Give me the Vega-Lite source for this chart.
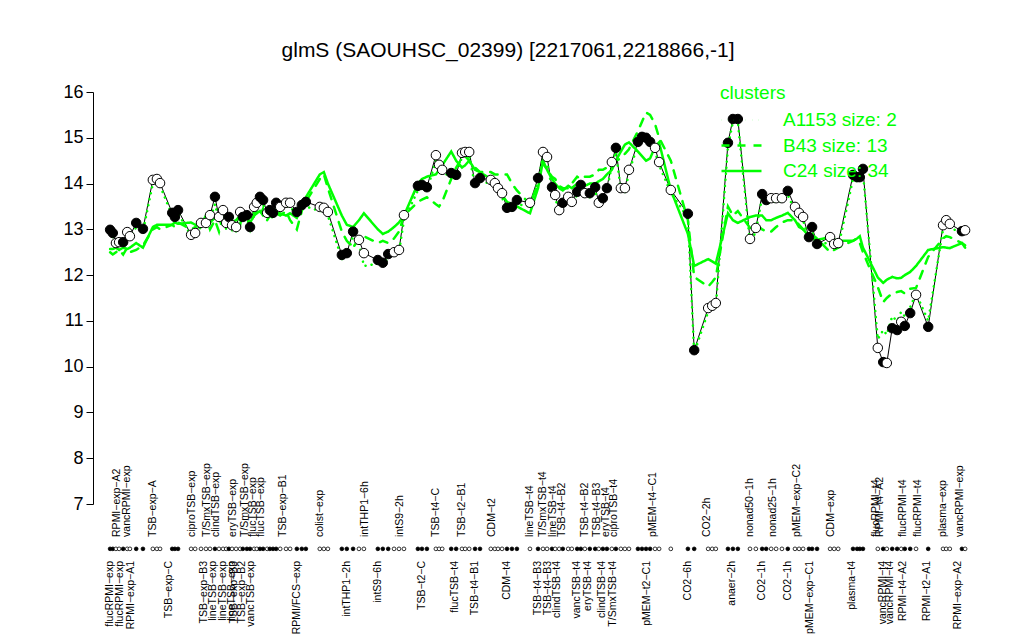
{
"$schema": "https://vega.github.io/schema/vega-lite/v6.json",
"width": 900,
"height": 412,
"autosize": {"type": "none"},
"padding": {"left": 93, "top": 92, "right": 31, "bottom": 136},
"title": {"text": "glmS (SAOUHSC_02399) [2217061,2218866,-1]", "font": "Liberation Sans", "fontSize": 21, "fontWeight": "normal", "color": "black", "anchor": "middle", "frame": "group", "dx": -35, "offset": 22},
"config": {
  "view": {"stroke": null},
  "font": "Liberation Sans",
  "axisY": {"values": [7,8,9,10,11,12,13,14,15,16], "grid": false, "domainColor": "black", "tickColor": "black", "tickSize": 7, "labelFontSize": 18, "labelFont": "Liberation Sans", "labelColor": "black", "labelPadding": 3, "domainWidth": 1, "tickWidth": 1, "title": null}
},
"datasets": {
"pts": [
{"p":3.8,"v":12.99,"f":1,"a":12.95,"b":12.5,"c":12.57},
{"p":4.4,"v":12.92,"f":1,"a":12.85,"b":12.45,"c":12.57},
{"p":5.1,"v":12.70,"f":0,"a":12.6,"b":12.5,"c":12.6},
{"p":5.8,"v":12.72,"f":0,"a":12.65,"b":12.55,"c":12.55},
{"p":6.7,"v":12.72,"f":1,"a":12.7,"b":12.45,"c":12.6},
{"p":7.6,"v":12.94,"f":0,"a":12.85,"b":12.6,"c":12.57},
{"p":8.2,"v":12.85,"f":0,"a":12.8,"b":12.5,"c":12.6},
{"p":9.6,"v":13.14,"f":1,"a":13.05,"b":12.55,"c":12.7},
{"p":11.1,"v":13.01,"f":1,"a":12.95,"b":12.65,"c":12.6},
{"p":13.3,"v":14.08,"f":0,"a":14.0,"b":13.0,"c":13.05},
{"p":14.2,"v":14.10,"f":0,"a":14.0,"b":13.05,"c":13.1},
{"p":14.9,"v":14.01,"f":0,"a":13.95,"b":13.0,"c":13.1},
{"p":17.6,"v":13.36,"f":1,"a":13.3,"b":13.1,"c":13.1},
{"p":18.2,"v":13.27,"f":1,"a":13.25,"b":13.05,"c":13.15},
{"p":18.9,"v":13.42,"f":1,"a":13.35,"b":13.15,"c":13.12},
{"p":21.8,"v":12.88,"f":0,"a":12.85,"b":13.0,"c":13.15},
{"p":22.7,"v":12.92,"f":0,"a":12.9,"b":13.05,"c":13.1},
{"p":24.0,"v":13.14,"f":0,"a":13.05,"b":13.1,"c":13.1},
{"p":25.1,"v":13.14,"f":0,"a":13.05,"b":13.3,"c":13.2},
{"p":26.0,"v":13.31,"f":0,"a":13.2,"b":13.0,"c":13.15},
{"p":27.1,"v":13.71,"f":1,"a":13.55,"b":13.2,"c":13.25},
{"p":28.0,"v":13.27,"f":0,"a":13.2,"b":12.95,"c":13.2},
{"p":28.9,"v":13.42,"f":0,"a":13.3,"b":13.3,"c":13.1},
{"p":29.6,"v":13.14,"f":0,"a":13.0,"b":13.05,"c":13.2},
{"p":30.2,"v":13.27,"f":1,"a":13.2,"b":13.15,"c":13.25},
{"p":30.9,"v":13.09,"f":0,"a":13.05,"b":13.0,"c":13.15},
{"p":31.8,"v":13.05,"f":0,"a":12.95,"b":13.2,"c":13.2},
{"p":32.7,"v":13.38,"f":0,"a":13.3,"b":13.1,"c":13.3},
{"p":33.3,"v":13.27,"f":1,"a":13.2,"b":13.4,"c":13.2},
{"p":34.2,"v":13.31,"f":1,"a":13.25,"b":13.2,"c":13.25},
{"p":34.9,"v":13.05,"f":1,"a":13.0,"b":13.0,"c":13.15},
{"p":35.8,"v":13.49,"f":0,"a":13.4,"b":13.3,"c":13.3},
{"p":36.4,"v":13.58,"f":0,"a":13.5,"b":13.4,"c":13.35},
{"p":37.1,"v":13.71,"f":1,"a":13.6,"b":13.3,"c":13.4},
{"p":37.8,"v":13.64,"f":1,"a":13.55,"b":13.45,"c":13.3},
{"p":38.7,"v":13.36,"f":0,"a":13.3,"b":13.2,"c":13.3},
{"p":39.3,"v":13.42,"f":1,"a":13.35,"b":13.3,"c":13.35},
{"p":40.0,"v":13.36,"f":1,"a":13.3,"b":13.25,"c":13.3},
{"p":40.7,"v":13.58,"f":1,"a":13.5,"b":13.35,"c":13.4},
{"p":41.6,"v":13.49,"f":0,"a":13.4,"b":13.3,"c":13.35},
{"p":42.9,"v":13.58,"f":0,"a":13.5,"b":13.4,"c":13.3},
{"p":43.8,"v":13.58,"f":0,"a":13.5,"b":13.2,"c":13.35},
{"p":45.3,"v":13.38,"f":1,"a":13.3,"b":13.0,"c":13.25},
{"p":46.4,"v":13.53,"f":1,"a":13.45,"b":13.4,"c":13.5},
{"p":47.3,"v":13.60,"f":1,"a":13.5,"b":13.6,"c":13.7},
{"p":50.4,"v":13.49,"f":0,"a":13.4,"b":14.1,"c":14.2},
{"p":51.3,"v":13.47,"f":0,"a":13.4,"b":14.2,"c":14.25},
{"p":52.2,"v":13.38,"f":0,"a":13.3,"b":13.9,"c":14.0},
{"p":55.3,"v":12.44,"f":1,"a":12.35,"b":12.95,"c":13.3},
{"p":56.4,"v":12.48,"f":1,"a":12.4,"b":12.75,"c":13.1},
{"p":57.8,"v":12.95,"f":1,"a":12.85,"b":12.6,"c":13.05},
{"p":59.1,"v":12.77,"f":0,"a":12.7,"b":12.8,"c":13.2},
{"p":60.2,"v":12.48,"f":0,"a":12.2,"b":12.85,"c":13.35},
{"p":63.3,"v":12.33,"f":1,"a":12.25,"b":12.7,"c":13.0},
{"p":64.4,"v":12.27,"f":1,"a":12.2,"b":12.75,"c":12.9},
{"p":65.6,"v":12.46,"f":1,"a":12.4,"b":12.7,"c":12.95},
{"p":66.9,"v":12.50,"f":0,"a":12.45,"b":12.8,"c":13.05},
{"p":68.0,"v":12.55,"f":0,"a":12.5,"b":12.95,"c":13.15},
{"p":69.1,"v":13.31,"f":0,"a":13.2,"b":13.3,"c":13.3},
{"p":72.2,"v":13.95,"f":1,"a":13.85,"b":13.6,"c":14.0},
{"p":73.1,"v":13.97,"f":1,"a":13.9,"b":13.65,"c":14.1},
{"p":74.2,"v":13.92,"f":1,"a":13.85,"b":13.7,"c":14.15},
{"p":76.2,"v":14.62,"f":0,"a":14.5,"b":13.55,"c":14.2},
{"p":76.9,"v":14.41,"f":0,"a":14.35,"b":13.5,"c":14.3},
{"p":77.6,"v":14.30,"f":0,"a":14.25,"b":13.6,"c":14.4},
{"p":79.6,"v":14.23,"f":1,"a":14.15,"b":14.1,"c":14.7},
{"p":80.7,"v":14.19,"f":1,"a":14.1,"b":14.35,"c":14.5},
{"p":82.0,"v":14.67,"f":0,"a":14.6,"b":14.55,"c":14.35},
{"p":82.7,"v":14.69,"f":0,"a":14.6,"b":14.6,"c":14.4},
{"p":83.6,"v":14.69,"f":0,"a":14.6,"b":14.5,"c":14.5},
{"p":84.9,"v":14.01,"f":1,"a":13.95,"b":14.35,"c":14.3},
{"p":86.0,"v":14.12,"f":1,"a":14.05,"b":14.25,"c":14.25},
{"p":88.4,"v":14.08,"f":0,"a":14.0,"b":14.25,"c":14.1},
{"p":89.3,"v":14.01,"f":0,"a":13.95,"b":14.2,"c":13.95},
{"p":90.0,"v":13.90,"f":0,"a":13.85,"b":14.2,"c":13.85},
{"p":90.9,"v":13.79,"f":0,"a":13.7,"b":14.2,"c":13.75},
{"p":92.0,"v":13.47,"f":1,"a":13.4,"b":14.2,"c":13.6},
{"p":93.1,"v":13.49,"f":1,"a":13.4,"b":14.0,"c":13.55},
{"p":94.2,"v":13.64,"f":1,"a":13.55,"b":13.85,"c":13.5},
{"p":97.1,"v":13.58,"f":0,"a":13.5,"b":13.55,"c":13.35},
{"p":98.9,"v":14.12,"f":1,"a":14.05,"b":14.0,"c":13.9},
{"p":100.0,"v":14.69,"f":0,"a":14.6,"b":14.45,"c":14.5},
{"p":100.9,"v":14.58,"f":0,"a":14.5,"b":14.3,"c":14.3},
{"p":102.0,"v":13.92,"f":1,"a":13.85,"b":14.15,"c":14.1},
{"p":102.7,"v":13.75,"f":0,"a":13.7,"b":14.1,"c":14.0},
{"p":103.6,"v":13.42,"f":0,"a":13.35,"b":13.95,"c":13.9},
{"p":104.4,"v":13.58,"f":1,"a":13.5,"b":13.9,"c":13.85},
{"p":105.6,"v":13.71,"f":0,"a":13.65,"b":13.9,"c":13.95},
{"p":106.4,"v":13.60,"f":0,"a":13.55,"b":14.0,"c":13.9},
{"p":107.6,"v":13.82,"f":1,"a":13.75,"b":14.15,"c":14.0},
{"p":108.4,"v":13.97,"f":1,"a":13.9,"b":14.1,"c":14.0},
{"p":109.3,"v":13.79,"f":0,"a":13.7,"b":14.15,"c":13.95},
{"p":110.4,"v":13.79,"f":1,"a":13.7,"b":14.15,"c":14.0},
{"p":111.6,"v":13.92,"f":1,"a":13.85,"b":14.2,"c":14.0},
{"p":112.4,"v":13.58,"f":0,"a":13.5,"b":14.3,"c":14.05},
{"p":113.3,"v":13.68,"f":1,"a":13.6,"b":14.3,"c":14.1},
{"p":114.2,"v":13.90,"f":1,"a":13.85,"b":14.35,"c":14.2},
{"p":115.3,"v":14.47,"f":0,"a":14.4,"b":14.45,"c":14.3},
{"p":116.2,"v":14.78,"f":1,"a":14.7,"b":14.5,"c":14.5},
{"p":117.3,"v":13.90,"f":0,"a":13.85,"b":14.55,"c":14.7},
{"p":118.2,"v":13.90,"f":0,"a":13.8,"b":14.65,"c":14.85},
{"p":119.1,"v":14.30,"f":0,"a":14.25,"b":14.75,"c":14.9},
{"p":121.1,"v":14.91,"f":1,"a":14.85,"b":15.15,"c":14.7},
{"p":122.0,"v":15.02,"f":1,"a":14.95,"b":15.35,"c":14.6},
{"p":122.9,"v":15.00,"f":1,"a":14.95,"b":15.55,"c":14.5},
{"p":123.8,"v":14.91,"f":1,"a":14.85,"b":15.5,"c":14.55},
{"p":124.9,"v":14.78,"f":0,"a":14.7,"b":15.3,"c":14.8},
{"p":125.8,"v":14.47,"f":0,"a":14.4,"b":15.0,"c":14.9},
{"p":128.4,"v":13.86,"f":0,"a":13.8,"b":14.5,"c":13.86},
{"p":132.2,"v":13.34,"f":1,"a":13.25,"b":13.2,"c":12.9},
{"p":133.6,"v":10.36,"f":1,"a":10.3,"b":11.96,"c":12.2},
{"p":136.7,"v":11.28,"f":0,"a":11.2,"b":11.75,"c":12.35},
{"p":137.6,"v":11.33,"f":0,"a":11.25,"b":11.85,"c":12.3},
{"p":138.4,"v":11.39,"f":0,"a":11.3,"b":11.95,"c":12.25},
{"p":141.1,"v":14.89,"f":1,"a":14.8,"b":13.5,"c":13.35},
{"p":142.2,"v":15.41,"f":1,"a":15.35,"b":13.3,"c":13.2},
{"p":143.3,"v":15.41,"f":1,"a":15.35,"b":13.4,"c":13.14},
{"p":146.0,"v":12.79,"f":0,"a":12.7,"b":13.03,"c":13.27},
{"p":147.3,"v":13.03,"f":0,"a":12.95,"b":13.1,"c":13.3},
{"p":148.7,"v":13.77,"f":1,"a":13.7,"b":13.0,"c":13.3},
{"p":149.6,"v":13.64,"f":1,"a":13.55,"b":12.95,"c":13.2},
{"p":150.7,"v":13.68,"f":0,"a":13.6,"b":12.95,"c":13.2},
{"p":151.8,"v":13.68,"f":0,"a":13.6,"b":13.05,"c":13.25},
{"p":153.1,"v":13.68,"f":0,"a":13.6,"b":13.15,"c":13.3},
{"p":154.4,"v":13.84,"f":1,"a":13.75,"b":13.2,"c":13.36},
{"p":156.0,"v":13.49,"f":0,"a":13.4,"b":13.2,"c":13.2},
{"p":156.9,"v":13.36,"f":0,"a":13.3,"b":13.1,"c":13.05},
{"p":157.8,"v":13.27,"f":0,"a":13.2,"b":13.0,"c":13.0},
{"p":159.1,"v":12.83,"f":1,"a":12.75,"b":12.9,"c":12.85},
{"p":159.8,"v":13.05,"f":1,"a":12.95,"b":12.88,"c":12.8},
{"p":160.9,"v":12.68,"f":1,"a":12.6,"b":12.8,"c":12.77},
{"p":163.8,"v":12.83,"f":0,"a":12.75,"b":12.5,"c":12.83},
{"p":164.7,"v":12.68,"f":0,"a":12.6,"b":12.55,"c":12.78},
{"p":165.6,"v":12.70,"f":0,"a":12.6,"b":12.6,"c":12.75},
{"p":168.9,"v":14.19,"f":1,"a":14.1,"b":12.75,"c":12.75},
{"p":169.8,"v":14.14,"f":1,"a":14.05,"b":12.8,"c":12.8},
{"p":170.4,"v":14.14,"f":1,"a":14.05,"b":12.7,"c":12.85},
{"p":171.1,"v":14.32,"f":1,"a":14.25,"b":12.5,"c":12.6},
{"p":174.4,"v":10.41,"f":0,"a":10.6,"b":11.74,"c":11.95},
{"p":175.6,"v":10.10,"f":1,"a":10.8,"b":11.41,"c":11.83},
{"p":176.4,"v":10.08,"f":0,"a":10.7,"b":11.5,"c":11.9},
{"p":177.6,"v":10.84,"f":1,"a":11.1,"b":11.6,"c":11.96},
{"p":178.7,"v":10.80,"f":1,"a":11.0,"b":11.63,"c":11.93},
{"p":179.6,"v":10.98,"f":0,"a":11.2,"b":11.65,"c":11.94},
{"p":180.4,"v":10.89,"f":1,"a":11.1,"b":11.6,"c":12.0},
{"p":181.6,"v":11.17,"f":1,"a":11.3,"b":11.7,"c":12.07},
{"p":182.9,"v":11.57,"f":0,"a":11.6,"b":11.72,"c":12.2},
{"p":185.6,"v":10.87,"f":1,"a":11.0,"b":12.4,"c":12.55},
{"p":188.9,"v":13.09,"f":0,"a":13.0,"b":12.8,"c":12.61},
{"p":189.6,"v":13.20,"f":0,"a":13.1,"b":12.85,"c":12.6},
{"p":190.4,"v":13.12,"f":0,"a":13.05,"b":12.83,"c":12.59},
{"p":193.1,"v":12.96,"f":1,"a":12.9,"b":12.7,"c":12.7},
{"p":193.8,"v":12.98,"f":0,"a":12.9,"b":12.65,"c":12.6}
],
"labs": [
{"p":5.3,"t":"RPMI−exp−A2","r":"t"},
{"p":7.6,"t":"vancRPMI−exp","r":"t"},
{"p":13.3,"t":"TSB−exp−A","r":"t"},
{"p":22.0,"t":"ciproTSB−exp","r":"t"},
{"p":25.3,"t":"T/SmxTSB−exp","r":"t"},
{"p":27.3,"t":"clindTSB−exp","r":"t"},
{"p":31.1,"t":"eryTSB−exp","r":"t"},
{"p":33.8,"t":"T/SmxTSB−exp","r":"t"},
{"p":35.6,"t":"flucTSB−exp","r":"t"},
{"p":37.3,"t":"flucTSB−exp","r":"t"},
{"p":42.2,"t":"TSB−exp−B1","r":"t"},
{"p":50.4,"t":"colist−exp","r":"t"},
{"p":60.4,"t":"intTHP1−6h","r":"t"},
{"p":68.2,"t":"intS9−2h","r":"t"},
{"p":76.2,"t":"TSB−t4−C","r":"t"},
{"p":82.0,"t":"TSB−t2−B1","r":"t"},
{"p":88.7,"t":"CDM−t2","r":"t"},
{"p":97.1,"t":"lineTSB−t4","r":"t"},
{"p":100.0,"t":"T/SmxTSB−t4","r":"t"},
{"p":102.2,"t":"lineTSB−t4","r":"t"},
{"p":104.2,"t":"TSB−t4−B2","r":"t"},
{"p":109.3,"t":"TSB−t4−B2","r":"t"},
{"p":112.0,"t":"TSB−t4−B3","r":"t"},
{"p":114.0,"t":"eryTSB−t4","r":"t"},
{"p":115.8,"t":"ciproTSB−t4","r":"t"},
{"p":124.4,"t":"pMEM−t4−C1","r":"t"},
{"p":136.4,"t":"CO2−2h","r":"t"},
{"p":146.0,"t":"nonad50−1h","r":"t"},
{"p":151.1,"t":"nonad25−1h","r":"t"},
{"p":156.4,"t":"pMEM−exp−C2","r":"t"},
{"p":164.0,"t":"CDM−exp","r":"t"},
{"p":174.0,"t":"flucRPMI−t4","r":"t"},
{"p":174.9,"t":"RPMI−t4−A2","r":"t"},
{"p":180.0,"t":"flucRPMI−t4","r":"t"},
{"p":183.3,"t":"flucRPMI−t4","r":"t"},
{"p":188.9,"t":"plasma−exp","r":"t"},
{"p":192.7,"t":"vancRPMI−exp","r":"t"},
{"p":3.8,"t":"flucRPMI−exp","r":"b"},
{"p":6.0,"t":"flucRPMI−exp","r":"b"},
{"p":8.4,"t":"RPMI−exp−A1","r":"b"},
{"p":16.9,"t":"TSB−exp−C","r":"b"},
{"p":24.7,"t":"TSB−exp−B3","r":"b"},
{"p":26.7,"t":"lineTSB−exp","r":"b"},
{"p":28.9,"t":"lineTSB−exp","r":"b"},
{"p":30.9,"t":"lineTSB−exp","r":"b"},
{"p":31.3,"t":"TSB−exp−B3","r":"b"},
{"p":33.1,"t":"TSB−exp−B2","r":"b"},
{"p":35.1,"t":"vancTSB−exp","r":"b"},
{"p":45.3,"t":"RPMI/FCS−exp","r":"b"},
{"p":56.4,"t":"intTHP1−2h","r":"b"},
{"p":63.3,"t":"intS9−6h","r":"b"},
{"p":73.1,"t":"TSB−t2−C","r":"b"},
{"p":80.4,"t":"flucTSB−t4","r":"b"},
{"p":84.9,"t":"TSB−t4−B1","r":"b"},
{"p":92.0,"t":"CDM−t4","r":"b"},
{"p":98.9,"t":"TSB−t4−B3","r":"b"},
{"p":101.1,"t":"TSB−t4−B3","r":"b"},
{"p":103.1,"t":"clindTSB−t4","r":"b"},
{"p":107.6,"t":"vancTSB−t4","r":"b"},
{"p":110.0,"t":"eryTSB−t4","r":"b"},
{"p":113.1,"t":"clindTSB−t4","r":"b"},
{"p":115.6,"t":"T/SmxTSB−t4","r":"b"},
{"p":123.1,"t":"pMEM−t2−C1","r":"b"},
{"p":132.2,"t":"CO2−6h","r":"b"},
{"p":142.0,"t":"anaer−2h","r":"b"},
{"p":148.7,"t":"CO2−1h","r":"b"},
{"p":154.4,"t":"CO2−1h","r":"b"},
{"p":159.3,"t":"pMEM−exp−C1","r":"b"},
{"p":168.7,"t":"plasma−t4","r":"b"},
{"p":175.6,"t":"vancRPMI−t4","r":"b"},
{"p":177.1,"t":"vancRPMI−t4","r":"b"},
{"p":180.0,"t":"RPMI−t4−A2","r":"b"},
{"p":185.3,"t":"RPMI−t2−A1","r":"b"},
{"p":192.2,"t":"RPMI−exp−A2","r":"b"}
]
},
"layer": [
{
  "data": {"name": "pts"},
  "mark": {"type": "line", "color": "black", "strokeWidth": 1},
  "encoding": {
    "x": {"field": "p", "type": "quantitative", "scale": {"domain": [0, 200], "nice": false, "zero": false}, "axis": null},
    "y": {"field": "v", "type": "quantitative", "scale": {"domain": [7, 16], "nice": false, "zero": false}}
  }
},
{
  "data": {"name": "pts"},
  "transform": [{"fold": ["a", "b", "c"], "as": ["k", "g"]}],
  "mark": {"type": "line", "color": "#00ff00", "strokeWidth": 2.5, "strokeCap": "round"},
  "encoding": {
    "x": {"field": "p", "type": "quantitative", "scale": {"domain": [0, 200], "nice": false, "zero": false}, "axis": null},
    "y": {"field": "g", "type": "quantitative", "scale": {"domain": [7, 16], "nice": false, "zero": false}},
    "strokeDash": {"field": "k", "type": "nominal", "scale": {"domain": ["a", "b", "c"], "range": [[0.1, 6], [8, 8], [1, 0]]},
      "legend": {"orient": "none", "legendX": 627, "legendY": -8, "title": "clusters", "titleColor": "#00ff00", "titleFont": "Liberation Sans", "titleFontSize": 19, "titleFontWeight": "normal", "titlePadding": 7, "labelColor": "#00ff00", "labelFontSize": 19, "labelFont": "Liberation Sans", "symbolType": "stroke", "symbolStrokeColor": "#00ff00", "symbolStrokeWidth": 2.5, "symbolSize": 1600, "clipHeight": 20, "labelOffset": 20, "rowPadding": 5.5, "padding": 0,
        "labelExpr": "datum.label == 'a' ? 'A1153 size: 2' : datum.label == 'b' ? 'B43 size: 13' : 'C24 size: 34'"}}
  }
},
{
  "data": {"name": "pts"},
  "mark": {"type": "point", "shape": "circle", "size": 90, "filled": true, "stroke": "black", "strokeWidth": 1, "opacity": 1},
  "encoding": {
    "x": {"field": "p", "type": "quantitative", "scale": {"domain": [0, 200], "nice": false, "zero": false}, "axis": null},
    "y": {"field": "v", "type": "quantitative", "scale": {"domain": [7, 16], "nice": false, "zero": false}},
    "fill": {"field": "f", "type": "nominal", "scale": {"domain": [0, 1], "range": ["white", "black"]}, "legend": null}
  }
},
{
  "data": {"name": "pts"},
  "mark": {"type": "point", "shape": "circle", "size": 14, "filled": true, "stroke": "black", "strokeWidth": 0.8, "opacity": 1},
  "encoding": {
    "x": {"field": "p", "type": "quantitative", "scale": {"domain": [0, 200], "nice": false, "zero": false}, "axis": null},
    "y": {"datum": 6.02, "type": "quantitative", "scale": {"domain": [7, 16], "nice": false, "zero": false}},
    "fill": {"field": "f", "type": "nominal", "scale": {"domain": [0, 1], "range": ["white", "black"]}, "legend": null}
  }
},
{
  "data": {"name": "labs"},
  "transform": [{"filter": "datum.r == 't'"}],
  "mark": {"type": "text", "angle": 270, "align": "left", "baseline": "middle", "fontSize": 10.5, "font": "Liberation Sans", "color": "black"},
  "encoding": {
    "x": {"field": "p", "type": "quantitative", "scale": {"domain": [0, 200], "nice": false, "zero": false}, "axis": null},
    "y": {"datum": 6.28, "type": "quantitative", "scale": {"domain": [7, 16], "nice": false, "zero": false}},
    "text": {"field": "t"}
  }
},
{
  "data": {"name": "labs"},
  "transform": [{"filter": "datum.r == 'b'"}],
  "mark": {"type": "text", "angle": 270, "align": "right", "baseline": "middle", "fontSize": 10.5, "font": "Liberation Sans", "color": "black"},
  "encoding": {
    "x": {"field": "p", "type": "quantitative", "scale": {"domain": [0, 200], "nice": false, "zero": false}, "axis": null},
    "y": {"datum": 5.755, "type": "quantitative", "scale": {"domain": [7, 16], "nice": false, "zero": false}},
    "text": {"field": "t"}
  }
}
]
}
